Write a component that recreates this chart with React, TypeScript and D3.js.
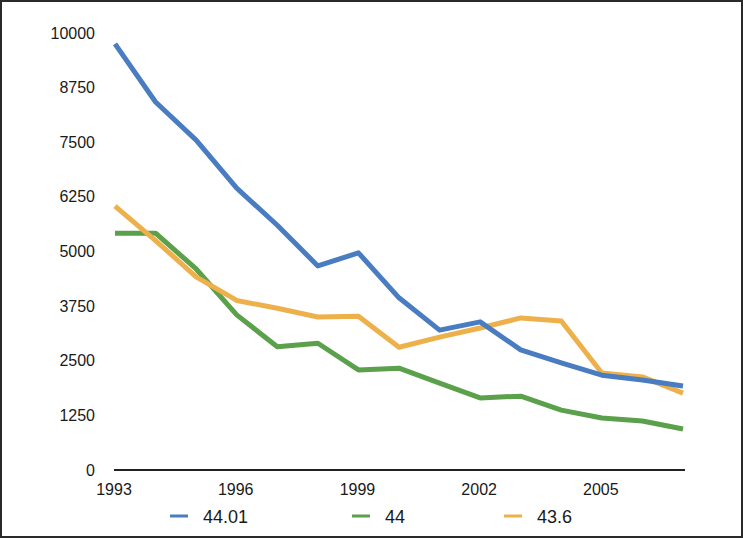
import React from "react";
import * as d3 from "d3";

const years = [1993, 1994, 1995, 1996, 1997, 1998, 1999, 2000, 2001, 2002, 2003, 2004, 2005, 2006, 2007];
const blueValues = [9750, 8420, 7550, 6450, 5600, 4670, 4970, 3940, 3200, 3390, 2750, 2450, 2170, 2060, 1920];
const greenValues = [5420, 5420, 4600, 3550, 2820, 2900, 2290, 2330, 1990, 1650, 1690, 1370, 1190, 1120, 940];
const orangeValues = [6040, 5250, 4420, 3880, 3700, 3500, 3520, 2810, 3040, 3250, 3480, 3410, 2220, 2130, 1760];
const yTicks = [0, 1250, 2500, 3750, 5000, 6250, 7500, 8750, 10000];
const xTickYears = [1993, 1996, 1999, 2002, 2005];
const seriesNames = ["44.01", "44", "43.6"];
const seriesColors = ["#4a7cc1", "#5ba04a", "#edb04b"];

export default function App() {
  const W = 743, H = 538;
  const x = d3.scaleLinear().domain([1993, 2007]).range([115, 683]);
  const y = d3.scaleLinear().domain([0, 10000]).range([470, 33]);
  const line = d3.line<number>().x((_, i) => x(years[i])).y((d) => y(d));
  const series = [blueValues, greenValues, orangeValues];
  const legendX = [170, 352, 504];
  const font = "'Liberation Sans', Arial, Helvetica, sans-serif";

  return (
    <svg width={W} height={H} style={{ position: "absolute", left: 0, top: 0, background: "#fff" }}>
      <rect x={1} y={1} width={W - 2} height={H - 2} fill="#fff" stroke="#2a2a2a" strokeWidth={2} />
      {yTicks.map((t) => (
        <text key={t} x={95} y={y(t)} dy="0.35em" textAnchor="end" fontFamily={font} fontSize={16} fill="#1a1a1a">
          {t}
        </text>
      ))}
      <line x1={114} x2={685} y1={y(0)} y2={y(0)} stroke="#222" strokeWidth={2} />
      {xTickYears.map((t) => (
        <text key={t} x={x(t) - 1} y={495} textAnchor="middle" fontFamily={font} fontSize={16} fill="#1a1a1a">
          {t}
        </text>
      ))}
      {[series[1], series[2], series[0]].map((s, k) => {
        const idx = [1, 2, 0][k];
        return (
          <path key={idx} d={line(s) || ""} fill="none" stroke={seriesColors[idx]} strokeWidth={5} strokeLinejoin="round" />
        );
      })}
      {seriesNames.map((n, i) => (
        <g key={n}>
          <line x1={legendX[i]} x2={legendX[i] + 18} y1={516} y2={516} stroke={seriesColors[i]} strokeWidth={3} />
          <text x={legendX[i] + 33} y={523} fontFamily={font} fontSize={18} fill="#1a1a1a">
            {n}
          </text>
        </g>
      ))}
    </svg>
  );
}
